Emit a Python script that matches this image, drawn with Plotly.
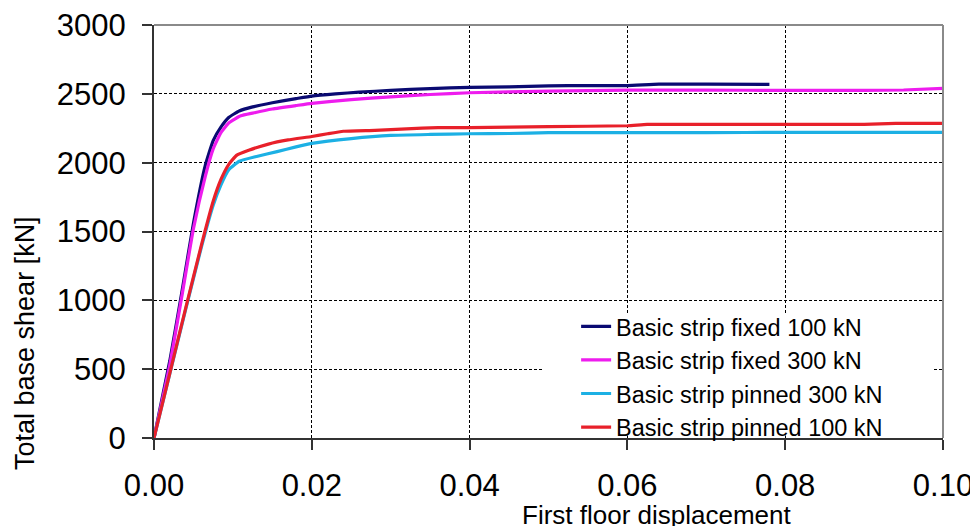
import plotly.graph_objects as go

# ---- data ----
fixed100_x = [0, 0.002, 0.0035, 0.005, 0.0065, 0.0075, 0.0085, 0.0095, 0.0108, 0.0125, 0.015, 0.018,
              0.02, 0.023, 0.026, 0.03, 0.035, 0.04, 0.045, 0.05, 0.055, 0.06, 0.064, 0.07, 0.078]
fixed100_y = [0, 560, 1050, 1560, 1980, 2160, 2260, 2330, 2375, 2405, 2435, 2465,
              2484, 2500, 2512, 2525, 2538, 2547, 2550, 2558, 2560, 2560, 2570, 2570, 2568]

fixed300_x = [0, 0.002, 0.0035, 0.005, 0.0065, 0.0075, 0.0085, 0.0095, 0.011, 0.0125, 0.015, 0.018,
              0.02, 0.025, 0.03, 0.035, 0.04, 0.05, 0.06, 0.07, 0.08, 0.09, 0.095, 0.1]
fixed300_y = [0, 530, 1020, 1520, 1900, 2100, 2220, 2290, 2340, 2360, 2390, 2415,
              2431, 2458, 2478, 2495, 2508, 2520, 2527, 2527, 2525, 2525, 2528, 2540]

pinned300_x = [0, 0.002, 0.004, 0.006, 0.0075, 0.0085, 0.0095, 0.0108, 0.013, 0.0156, 0.018, 0.02,
               0.025, 0.03, 0.035, 0.04, 0.045, 0.05, 0.06, 0.07, 0.08, 0.09, 0.1]
pinned300_y = [0, 465, 930, 1385, 1690, 1840, 1950, 2010, 2045, 2080, 2115, 2140,
               2175, 2198, 2205, 2210, 2212, 2218, 2218, 2218, 2220, 2220, 2220]

pinned100_x = [0, 0.002, 0.004, 0.006, 0.0075, 0.0085, 0.0095, 0.0105, 0.012, 0.0145, 0.017, 0.02,
               0.022, 0.024, 0.028, 0.032, 0.036, 0.04, 0.05, 0.06, 0.0625, 0.07, 0.08, 0.09, 0.094, 0.1]
pinned100_y = [0, 470, 940, 1400, 1720, 1880, 1990, 2055, 2090, 2135, 2165, 2190,
               2210, 2228, 2235, 2245, 2255, 2255, 2262, 2268, 2278, 2278, 2278, 2278, 2286, 2286]

series_names = ["Basic strip fixed 100 kN", "Basic strip fixed 300 kN",
                "Basic strip pinned 300 kN", "Basic strip pinned 100 kN"]
series_colors = ["#0a0a72", "#ee1cee", "#1cb0e4", "#e8202a"]

x_ticks = [0, 0.02, 0.04, 0.06, 0.08, 0.10]
x_ticklabels = ["0.00", "0.02", "0.04", "0.06", "0.08", "0.10"]
y_ticks = [0, 500, 1000, 1500, 2000, 2500, 3000]

x_title = "First floor displacement"
y_title = "Total base shear [kN]"

FONT = "Liberation Sans, Arial, sans-serif"

fig = go.Figure()
for xs, ys, name, col in zip([fixed100_x, fixed300_x, pinned300_x, pinned100_x],
                             [fixed100_y, fixed300_y, pinned300_y, pinned100_y],
                             series_names, series_colors):
    fig.add_trace(go.Scatter(x=xs, y=ys, mode="lines", name=name,
                             line=dict(color=col, width=3.2, shape="spline", smoothing=0.4)))

# page body has an 8px default margin, so the margins are offset accordingly
fig.update_layout(
    width=978, height=526,
    margin=dict(l=146, r=43, t=17, b=96),
    paper_bgcolor="white", plot_bgcolor="white",
    font=dict(family=FONT, color="black"),
    showlegend=True,
    legend=dict(x=0.535, y=0.323, xanchor="left", yanchor="top",
                bgcolor="rgba(255,255,255,0)", borderwidth=0,
                font=dict(family=FONT, size=23.5, color="black"),
                tracegroupgap=0, itemwidth=30),
    xaxis=dict(range=[0, 0.1], tickvals=x_ticks, ticktext=x_ticklabels,
               showgrid=True, gridcolor="black", griddash="3px,2px", gridwidth=1,
               showline=True, linecolor="#333333", linewidth=2,
               ticks="outside", ticklen=10, tickcolor="#333333", tickwidth=1.5,
               ticklabelstandoff=9, automargin=False, ticklabeloverflow="allow",
               tickfont=dict(family=FONT, size=31, color="black"),
               zeroline=False),
    yaxis=dict(range=[0, 3000], tickvals=y_ticks,
               showgrid=True, gridcolor="black", griddash="3px,2px", gridwidth=1,
               showline=True, linecolor="#333333", linewidth=2,
               ticks="outside", ticklen=10, tickcolor="#333333", tickwidth=1.5,
               ticklabelstandoff=10, automargin=False, ticklabeloverflow="allow",
               tickfont=dict(family=FONT, size=31, color="black"),
               zeroline=False),
)

# white legend panel hiding the gridlines behind the legend
fig.add_shape(type="rect", xref="paper", yref="paper", x0=0.493, x1=0.987, y0=0.006, y1=0.298,
              fillcolor="white", line=dict(width=0), layer="above")

# top and right frame lines (gray)
fig.add_shape(type="line", xref="paper", yref="paper", x0=0, x1=1, y0=1, y1=1,
              line=dict(color="#8a8a8a", width=2))
fig.add_shape(type="line", xref="paper", yref="paper", x0=1, x1=1, y0=0, y1=1,
              line=dict(color="#8a8a8a", width=2))

# axis titles
fig.add_annotation(text=x_title, xref="paper", yref="paper",
                   x=(657 - 154) / 789, y=-(515 - 438) / 413,
                   xanchor="center", yanchor="middle", showarrow=False,
                   font=dict(family=FONT, size=26, color="black"))
fig.add_annotation(text=y_title, xref="paper", yref="paper",
                   x=-(154 - 25) / 789, y=(438 - 343) / 413,
                   xanchor="center", yanchor="middle", showarrow=False, textangle=-90,
                   font=dict(family=FONT, size=27, color="black"))

fig.write_html("out.html")
